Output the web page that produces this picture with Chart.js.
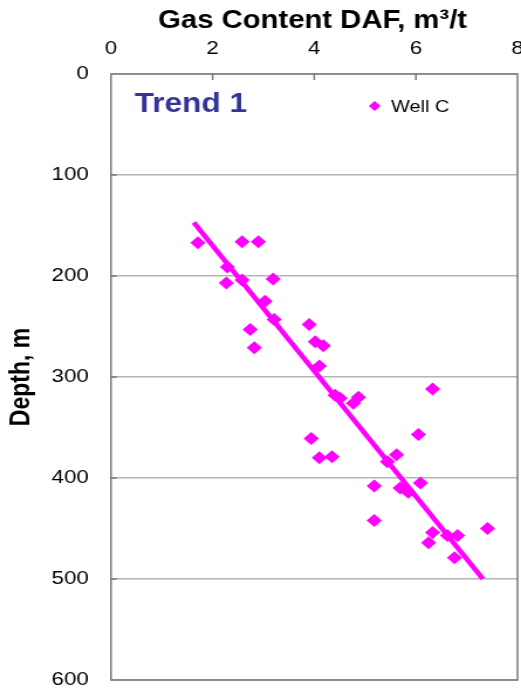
<!DOCTYPE html>
<html>
<head>
<meta charset="utf-8">
<script src="https://cdn.jsdelivr.net/npm/chart.js@4.4.1/dist/chart.umd.min.js"></script>
<style>
  html, body { margin: 0; padding: 0; background: #fff; overflow: hidden; }
  /* the original picture is stretched sideways, so draw narrow and scale the canvas */
  #wrap { width: 445px; height: 689px; transform: scaleX(1.1708); transform-origin: 0 0; }
</style>
</head>
<body>
<div id="wrap"><canvas id="gasChart" width="445" height="689"></canvas></div>
<script>
// Well C samples: gas content (m3/t, DAF) against depth (m)
const gasContent = [1.71, 2.58, 2.90, 2.29, 2.27, 2.58, 3.19, 3.03, 3.21, 2.74,
  2.82, 3.90, 4.02, 4.18, 4.10, 4.41, 4.51, 4.77, 4.87, 6.33,
  6.05, 3.94, 4.10, 4.35, 5.44, 5.62, 5.18, 5.69, 5.85, 6.09,
  5.18, 6.25, 6.33, 6.62, 6.82, 6.76, 7.41];
const depth = [167, 166, 166, 191, 207, 204, 203, 225, 243, 253,
  271, 248, 265, 269, 289, 318, 321, 326, 320, 312,
  357, 361, 380, 379, 384, 377, 408, 410, 414, 405,
  442, 464, 454, 457, 457, 479, 450];

// Trend 1 end points
const trendGas = [1.63, 7.32];
const trendDepth = [147, 500];

// axis ticks
const xTicks = [0, 2, 4, 6, 8];
const yTicks = [0, 100, 200, 300, 400, 500, 600];

const seriesName = 'Well C';
const trendName = 'Trend 1';
const xTitle = 'Gas Content DAF, m\u00B3/t';
const yTitle = 'Depth, m';

const magenta = '#ff00ff';

// frame, inward tick marks, titles and the small legend
const decor = {
  id: 'decor',
  beforeDatasetsDraw(chart) {
    const { ctx, chartArea: a, scales: { x, y } } = chart;
    ctx.save();
    ctx.strokeStyle = '#7a7a7a';
    ctx.lineWidth = 1.5;
    ctx.strokeRect(a.left, a.top, a.right - a.left, a.bottom - a.top);
    ctx.beginPath();
    xTicks.slice(1, -1).forEach(v => {
      const px = x.getPixelForValue(v);
      ctx.moveTo(px, a.top);
      ctx.lineTo(px, a.top + 6);
    });
    yTicks.slice(1, -1).forEach(v => {
      const py = y.getPixelForValue(v);
      ctx.moveTo(a.left, py);
      ctx.lineTo(a.left + 5, py);
    });
    ctx.stroke();
    ctx.restore();
  },
  afterDraw(chart) {
    const { ctx, chartArea: a } = chart;
    ctx.save();
    ctx.fillStyle = '#000';
    ctx.textAlign = 'center';
    ctx.textBaseline = 'alphabetic';
    ctx.font = 'bold 25px "Liberation Sans", Arial, sans-serif';
    ctx.fillText(xTitle, 267, 28);

    ctx.save();
    ctx.translate(19, (a.top + a.bottom) / 2);
    ctx.rotate(-Math.PI / 2);
    ctx.textBaseline = 'middle';
    ctx.font = 'bold 23px "Liberation Sans", Arial, sans-serif';
    ctx.fillText(yTitle, 0, 0);
    ctx.restore();

    ctx.textAlign = 'left';
    ctx.fillStyle = '#333399';
    ctx.font = 'bold 27px "Liberation Sans", Arial, sans-serif';
    ctx.fillText(trendName, 115, 112);

    // legend entry
    ctx.fillStyle = magenta;
    ctx.beginPath();
    ctx.moveTo(320, 101);
    ctx.lineTo(325, 106);
    ctx.lineTo(320, 111);
    ctx.lineTo(315, 106);
    ctx.closePath();
    ctx.fill();
    ctx.fillStyle = '#000';
    ctx.font = '17px "Liberation Sans", Arial, sans-serif';
    ctx.fillText(seriesName, 334, 112);
    ctx.restore();
  }
};

const ctx = document.getElementById('gasChart').getContext('2d');

new Chart(ctx, {
  type: 'scatter',
  data: {
    datasets: [
      {
        label: seriesName,
        data: gasContent.map((g, i) => ({ x: g, y: depth[i] })),
        pointStyle: 'rectRot',
        pointRadius: 6.5,
        pointHoverRadius: 6.5,
        pointBackgroundColor: magenta,
        pointBorderWidth: 0,
        order: 1
      },
      {
        label: trendName,
        data: trendGas.map((g, i) => ({ x: g, y: trendDepth[i] })),
        showLine: true,
        borderColor: magenta,
        borderWidth: 4.5,
        pointRadius: 0,
        order: 2
      }
    ]
  },
  options: {
    responsive: false,
    devicePixelRatio: 1,
    animation: false,
    layout: { autoPadding: false, padding: { left: 0, right: 3, top: 0, bottom: 9 } },
    plugins: {
      legend: { display: false },
      tooltip: { enabled: false }
    },
    scales: {
      x: {
        position: 'top',
        min: 0,
        max: 8,
        afterBuildTicks: s => { s.ticks = xTicks.map(v => ({ value: v })); },
        afterFit: s => { s.height = 74; s.paddingLeft = 0; s.paddingRight = 0; },
        ticks: {
          color: '#000',
          padding: 14,
          font: { family: '"Liberation Sans", Arial, sans-serif', size: 19 }
        },
        grid: { display: false, drawTicks: false, tickLength: 0 },
        border: { display: false }
      },
      y: {
        reverse: true,
        min: 0,
        max: 600,
        afterBuildTicks: s => { s.ticks = yTicks.map(v => ({ value: v })); },
        afterFit: s => { s.width = 94.8; s.paddingTop = 0; s.paddingBottom = 0; },
        ticks: {
          color: '#000',
          padding: 19,
          font: { family: '"Liberation Sans", Arial, sans-serif', size: 19 }
        },
        grid: { color: '#b4b4b4', lineWidth: 1.5, drawTicks: false, tickLength: 0 },
        border: { display: false }
      }
    }
  },
  plugins: [decor]
});
</script>
</body>
</html>
